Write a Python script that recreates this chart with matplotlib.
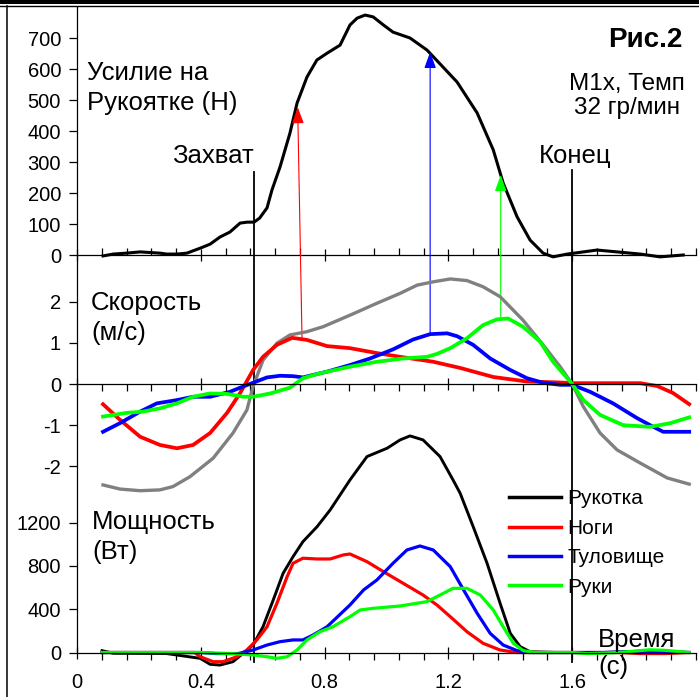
import matplotlib
matplotlib.use("Agg")
import matplotlib.pyplot as plt
from matplotlib.lines import Line2D
import numpy as np

plt.rcParams['font.family'] = ['Liberation Sans', 'DejaVu Sans']

# ---------------- data ----------------
# Force on handle (N)
force_t = [0.084, 0.117, 0.16, 0.204, 0.268, 0.29, 0.323, 0.355, 0.398, 0.43, 0.462, 0.494,
           0.527, 0.55, 0.572, 0.59, 0.614, 0.63, 0.656, 0.688, 0.711, 0.743, 0.775, 0.808,
           0.85, 0.882, 0.905, 0.931, 0.957, 0.99, 1.021, 1.076, 1.131, 1.228, 1.293, 1.345, 1.377,
           1.422, 1.464, 1.506, 1.538, 1.584, 1.636, 1.68, 1.745, 1.82, 1.884, 1.959]
force_N = [-3, 3, 6, 10, 6, 3, 3, 6, 22, 35, 58, 74, 103, 106, 106, 119, 152, 210, 284, 393,
           490, 574, 629, 651, 677, 742, 764, 774, 768, 742, 719, 700, 661, 558, 458, 339, 232,
           123, 48, 6, -6, 3, 10, 16, 10, 3, -6, 0]

# Velocities (m/s)
vel_handle_t = [0.084, 0.139, 0.204, 0.268, 0.31, 0.365, 0.44, 0.504, 0.549, 0.569, 0.601, 0.646,
                0.688, 0.743, 0.795, 0.882, 0.969, 1.044, 1.099, 1.151, 1.206, 1.26, 1.312, 1.367,
                1.441, 1.506, 1.561, 1.6, 1.636, 1.69, 1.745, 1.82, 1.907, 1.978]
vel_handle = [-2.45, -2.55, -2.59, -2.57, -2.49, -2.25, -1.80, -1.19, -0.63, -0.06, 0.58, 0.99,
              1.19, 1.27, 1.39, 1.67, 1.96, 2.2, 2.4, 2.48, 2.55, 2.51, 2.36, 2.12,
              1.55, 0.95, 0.42, 0.0, -0.55, -1.19, -1.60, -1.92, -2.28, -2.43]

vel_legs_t = [0.084, 0.139, 0.204, 0.268, 0.323, 0.375, 0.43, 0.485, 0.527, 0.569, 0.601, 0.646,
              0.695, 0.743, 0.808, 0.882, 0.969, 1.044, 1.151, 1.238, 1.345, 1.454, 1.551, 1.6,
              1.69, 1.82, 1.875, 1.926, 1.978]
vel_legs = [-0.49, -0.87, -1.28, -1.48, -1.56, -1.48, -1.19, -0.70, -0.22, 0.34, 0.66, 0.95,
            1.12, 1.07, 0.92, 0.87, 0.75, 0.66, 0.54, 0.39, 0.17, 0.06, 0.04, 0.02,
            0.02, 0.02, -0.05, -0.22, -0.49]

vel_trunk_t = [0.084, 0.139, 0.204, 0.258, 0.323, 0.375, 0.43, 0.494, 0.537, 0.569, 0.614, 0.656,
               0.698, 0.73, 0.763, 0.808, 0.882, 0.947, 1.021, 1.086, 1.141, 1.196, 1.228, 1.28,
               1.335, 1.4, 1.454, 1.506, 1.561, 1.6, 1.658, 1.732, 1.81, 1.852, 1.894, 1.978]
vel_trunk = [-1.16, -0.95, -0.67, -0.47, -0.39, -0.31, -0.31, -0.19, -0.06, 0.03, 0.16, 0.2,
             0.19, 0.16, 0.22, 0.3, 0.46, 0.62, 0.84, 1.08, 1.21, 1.23, 1.16, 0.95,
             0.62, 0.34, 0.14, 0.03, -0.02, -0.02, -0.19, -0.47, -0.83, -1.0, -1.16, -1.16]

vel_arms_t = [0.084, 0.161, 0.214, 0.268, 0.323, 0.375, 0.43, 0.485, 0.537, 0.569, 0.624, 0.688,
              0.73, 0.785, 0.882, 0.969, 1.054, 1.131, 1.163, 1.206, 1.26, 1.312, 1.357, 1.393,
              1.441, 1.496, 1.538, 1.6, 1.636, 1.69, 1.765, 1.852, 1.917, 1.978]
vel_arms = [-0.79, -0.70, -0.67, -0.59, -0.47, -0.31, -0.23, -0.24, -0.31, -0.31, -0.23, -0.09,
            0.14, 0.26, 0.42, 0.54, 0.62, 0.66, 0.73, 0.87, 1.11, 1.43, 1.57, 1.59,
            1.39, 1.03, 0.54, 0.0, -0.39, -0.75, -1.0, -1.04, -0.95, -0.81]

# Power (W)
pow_handle_t = [0.081, 0.117, 0.29, 0.398, 0.43, 0.462, 0.504, 0.537, 0.569, 0.601, 0.634, 0.666,
                0.698, 0.73, 0.776, 0.818, 0.882, 0.937, 1.002, 1.044, 1.076, 1.118, 1.173, 1.215,
                1.238, 1.28, 1.325, 1.367, 1.4, 1.432, 1.464, 1.55, 1.7, 1.8, 1.85, 1.9, 1.978]
pow_handle = [17, -7, -10, -54, -109, -116, -85, -7, 69, 238, 485, 732,
              885, 1024, 1163, 1317, 1594, 1810, 1887, 1964, 2001, 1964, 1810, 1594,
              1471, 1163, 824, 455, 177, 54, 7, 0, 0, 10, 20, 10, 0]

pow_legs_t = [0.081, 0.38, 0.398, 0.44, 0.472, 0.517, 0.549, 0.581, 0.614, 0.646, 0.679, 0.698,
              0.73, 0.776, 0.818, 0.86, 0.882, 0.937, 0.99, 1.054, 1.118, 1.163, 1.206, 1.26,
              1.312, 1.367, 1.42, 1.6, 1.75, 1.82, 1.9, 1.978]
pow_legs = [0, 0, -39, -85, -85, -39, 23, 116, 238, 455, 701, 824,
            871, 864, 864, 901, 910, 839, 747, 639, 531, 439, 331, 192,
            85, 23, 0, 0, 0, -10, -10, 0]

pow_trunk_t = [0.081, 0.4, 0.45, 0.52, 0.569, 0.614, 0.656, 0.698, 0.73, 0.763, 0.808, 0.882,
               0.926, 0.969, 1.021, 1.066, 1.108, 1.151, 1.206, 1.249, 1.293, 1.335, 1.377, 1.422,
               1.46, 1.7, 1.85, 1.978]
pow_trunk = [0, 0, -10, -10, 23, 69, 100, 116, 116, 162, 238, 439,
             578, 670, 824, 947, 984, 947, 793, 578, 362, 177, 69, 17,
             0, 0, 10, 0]

pow_arms_t = [0.081, 0.4, 0.5, 0.569, 0.614, 0.646, 0.679, 0.711, 0.743, 0.785, 0.827, 0.882,
              0.915, 0.957, 1.044, 1.131, 1.173, 1.215, 1.26, 1.303, 1.345, 1.377, 1.41, 1.442,
              1.48, 1.6, 1.65, 1.75, 1.85, 1.9, 1.978]
pow_arms = [0, 0, -10, -23, -39, -54, -39, 23, 116, 192, 238, 331,
            393, 408, 430, 470, 531, 593, 593, 531, 393, 238, 85, 17,
            0, 0, -10, 0, 25, 20, 0]

# events and arrows
t_catch = 0.572
t_finish = 1.6
arrow_t_tail = [0.727, 1.141, 1.369]
arrow_v_tail = [1.12, 1.21, 1.63]
arrow_t_head = [0.713, 1.141, 1.369]
arrow_F_head = [477, 655, 258]
arrow_colors = ['#ff0000', '#0000ff', '#00ff00']

x_ticks = [0, 0.4, 0.8, 1.2, 1.6]
x_ticklabels = ['0', '0.4', '0.8', '1.2', '1.6']
force_ticks = [0, 100, 200, 300, 400, 500, 600, 700]
vel_ticks = [-2, -1, 0, 1, 2]
vel_ticklabels = ['-2', '-1', '0', '1', '2']
pow_ticks = [0, 400, 800, 1200]
legend_labels = ['Рукотка', 'Ноги', 'Туловище', 'Руки']

# ---------------- layout ----------------
W, H = 699, 697
fig = plt.figure(figsize=(W / 100, H / 100), dpi=100)
fig.patch.set_facecolor('white')

AX_L, AX_R, AX_T, AX_B = 77, 696, 7, 697
rect = [AX_L / W, 1 - AX_B / H, (AX_R - AX_L) / W, (AX_B - AX_T) / H]


def fx(px):
    return px / W


def fy(py):
    return 1 - py / H


def make_ax(label, zero_px, px_per_unit):
    ax = fig.add_axes(rect, label=label)
    ax.set_facecolor('none')
    ax.set_xlim(0, 2.0)
    ax.set_ylim(-(AX_B - zero_px) / px_per_unit, (zero_px - AX_T) / px_per_unit)
    for s in ['top', 'right', 'left']:
        ax.spines[s].set_visible(False)
    ax.spines['bottom'].set_position(('data', 0))
    ax.spines['bottom'].set_linewidth(0.9)
    ax.set_xticks(x_ticks)
    ax.set_xticks(np.round(np.arange(0.08, 2.0001, 0.08), 2), minor=True)
    ax.tick_params(axis='x', which='major', direction='inout', length=9, width=0.9)
    ax.tick_params(axis='y', which='major', direction='out', length=5.5, width=0.9,
                   labelsize=14.5, pad=6)
    return ax


axF = make_ax('force', 255, 0.31)
axV = make_ax('vel', 384, 41.2)
axP = make_ax('pow', 652.5, 43.3 / 400)

axF.tick_params(axis='x', which='minor', direction='in', length=5, width=0.9)
axV.tick_params(axis='x', which='minor', direction='out', length=5, width=0.9)
axP.tick_params(axis='x', which='minor', direction='out', length=5, width=0.9)
axF.tick_params(axis='x', labelbottom=False)
axV.tick_params(axis='x', labelbottom=False)
axP.set_xticklabels(x_ticklabels)
axP.tick_params(axis='x', labelsize=14.5, pad=10.5)

axF.set_yticks(force_ticks)
axF.set_yticklabels([str(v) for v in force_ticks])
axV.set_yticks(vel_ticks)
axV.set_yticklabels(vel_ticklabels)
axP.set_yticks(pow_ticks)
axP.set_yticklabels([str(v) for v in pow_ticks])

axP.spines['left'].set_visible(True)
axP.spines['left'].set_linewidth(0.9)

# ---------------- curves ----------------
axF.plot(force_t, force_N, color='black', lw=2.2, solid_joinstyle='round')

axV.plot(vel_handle_t, vel_handle, color='#808080', lw=2.4, solid_joinstyle='round')
axV.plot(vel_legs_t, vel_legs, color='#ff0000', lw=2.7, solid_joinstyle='round')
axV.plot(vel_trunk_t, vel_trunk, color='#0000ff', lw=2.7, solid_joinstyle='round')
axV.plot(vel_arms_t, vel_arms, color='#00ff00', lw=2.7, solid_joinstyle='round')

h1, = axP.plot(pow_handle_t, pow_handle, color='black', lw=2.1, solid_joinstyle='round')
h2, = axP.plot(pow_legs_t, pow_legs, color='#ff0000', lw=2.3, solid_joinstyle='round')
h3, = axP.plot(pow_trunk_t, pow_trunk, color='#0000ff', lw=2.3, solid_joinstyle='round')
h4, = axP.plot(pow_arms_t, pow_arms, color='#00ff00', lw=2.3, solid_joinstyle='round')

# event lines
ymin_frac = (AX_B - 662) / (AX_B - AX_T)
axF.axvline(t_catch, ymin=ymin_frac, ymax=(AX_B - 172) / (AX_B - AX_T), color='black', lw=1.3)
axF.axvline(t_finish, ymin=ymin_frac, ymax=(AX_B - 170) / (AX_B - AX_T), color='black', lw=1.3)

# arrows from velocity peaks to force curve
for tt, vt, th, fh, c in zip(arrow_t_tail, arrow_v_tail, arrow_t_head, arrow_F_head, arrow_colors):
    axF.annotate('', xy=(th, fh), xycoords=axF.transData,
                 xytext=(tt, vt), textcoords=axV.transData,
                 arrowprops=dict(arrowstyle='-|>,head_length=1.0,head_width=0.36',
                                 mutation_scale=10, color=c, lw=0.8,
                                 shrinkA=0, shrinkB=0))

# legend
leg = axP.legend([h1, h2, h3, h4], legend_labels, loc='upper left',
                 bbox_to_anchor=(fx(509), fy(489.5)), bbox_transform=fig.transFigure,
                 frameon=False, fontsize=15, handlelength=2.5, handletextpad=0.3,
                 labelspacing=0.5, borderpad=0, borderaxespad=0)
for ln in leg.get_lines():
    ln.set_linewidth(2.5)

# ---------------- texts ----------------
def txt(px, py, s, size=18.5, ha='left', weight='normal'):
    fig.text(fx(px), fy(py), s, fontsize=size, ha=ha, va='baseline', weight=weight)


txt(87, 80, 'Усилие на')
txt(87, 110, 'Рукоятке (Н)')
txt(213, 163, 'Захват', ha='center')
txt(575, 163, 'Конец', ha='center')
txt(645, 47, 'Рис.2', size=20, ha='center', weight='bold')
txt(627, 90, 'М1х, Темп', size=17.5, ha='center')
txt(627, 114, '32 гр/мин', size=17.5, ha='center')
txt(91, 310, 'Скорость')
txt(91, 340, '(м/с)')
txt(92, 529, 'Мощность')
txt(92, 559, '(Вт)')
txt(598, 647, 'Время')
txt(598, 674, '(с)')

# ---------------- frame ----------------
fig.add_artist(Line2D([0, 1], [fy(2), fy(2)], transform=fig.transFigure, color='black', lw=2.9))
fig.add_artist(Line2D([0, 1], [fy(6.2), fy(6.2)], transform=fig.transFigure, color='black', lw=1.0))
fig.add_artist(Line2D([fx(7.3), fx(7.3)], [fy(6.2), 0], transform=fig.transFigure, color='black', lw=1.1))
axP.spines['left'].set_bounds(0, axP.get_ylim()[1])

fig.savefig('out.png', dpi=100, facecolor='white')
